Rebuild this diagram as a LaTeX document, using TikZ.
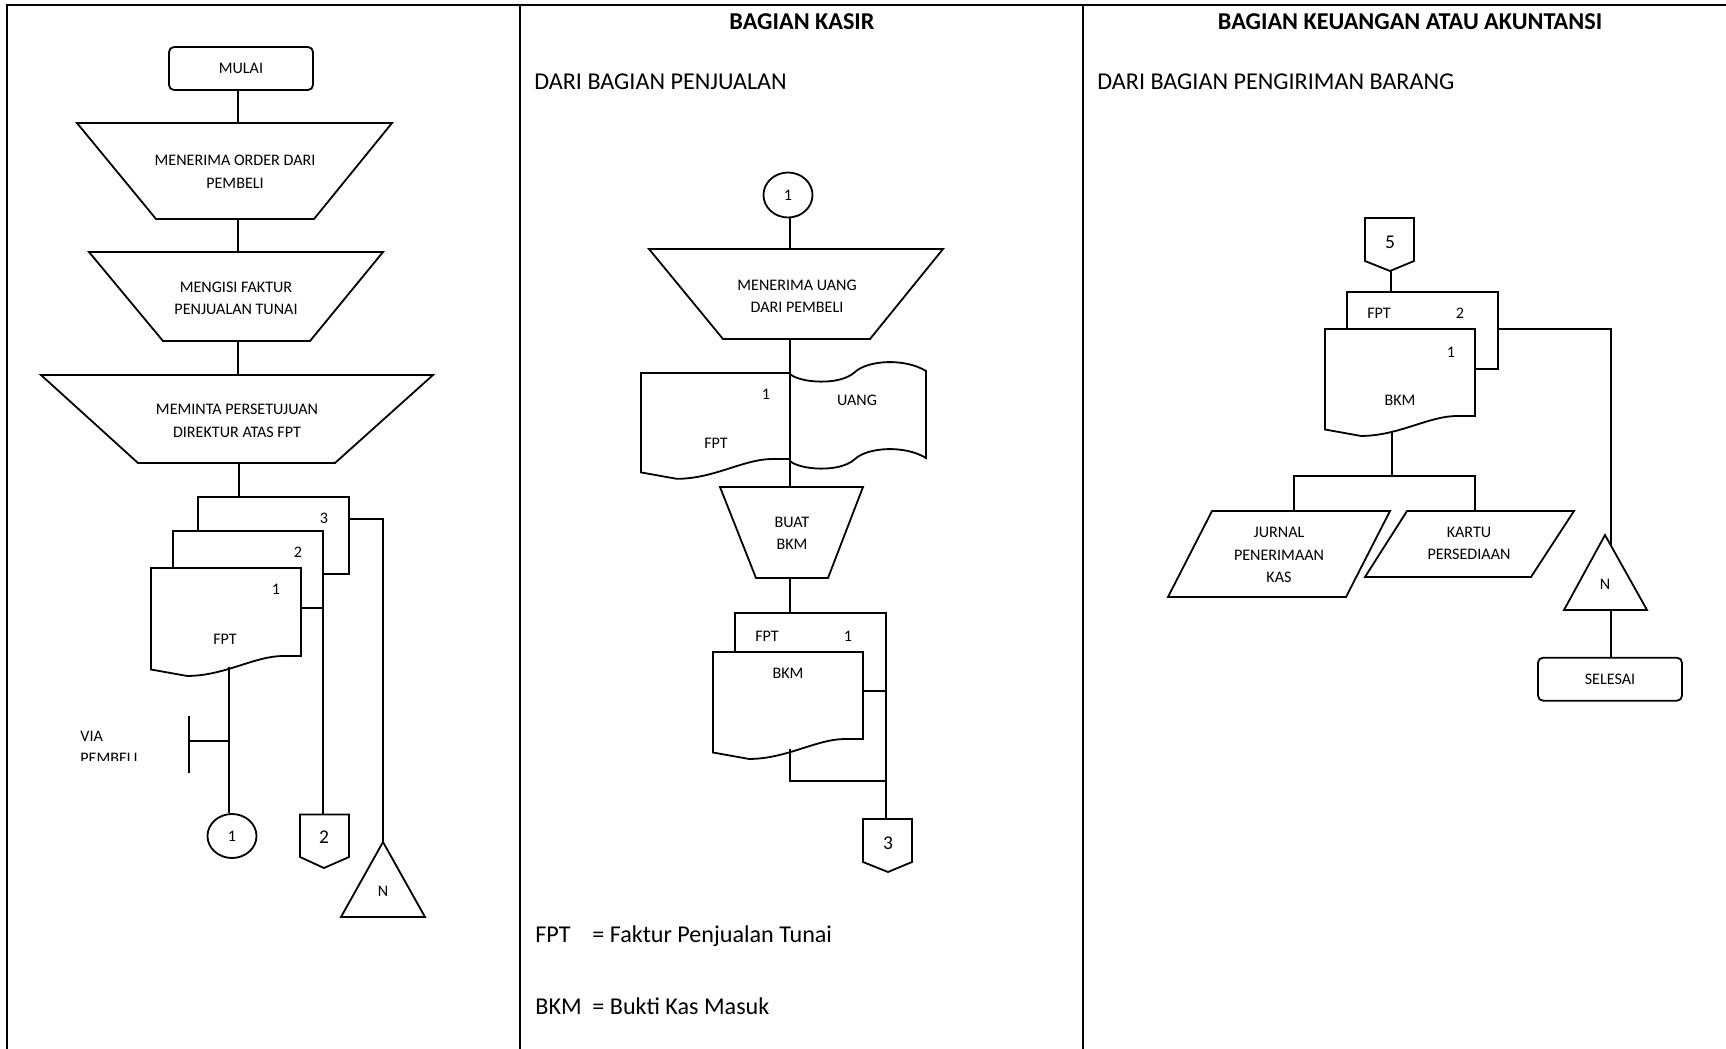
\documentclass[tikz,border=0pt]{standalone}
\usepackage{fontspec}
\setmainfont{Carlito}
\usetikzlibrary{shapes.geometric}
\tikzset{
  frameline/.style={line width=1pt},
  shp/.style={draw, line width=0.9pt, line join=miter},
  ln/.style={line width=0.9pt},
  smalltxt/.style={font=\fontsize{8.05}{11.25}\selectfont, inner sep=0pt, align=center},
  bigtxt/.style={font=\fontsize{12.07}{14}\selectfont, inner sep=0pt},
  hdrtxt/.style={font=\bfseries\fontsize{12.1}{14}\selectfont, inner sep=0pt},
  digtxt/.style={font=\fontsize{9.75}{12}\selectfont, inner sep=0pt},
  termbox/.style={shp, rounded corners=2.5pt, minimum width=72pt, smalltxt},
  connector/.style={shp, ellipse, minimum width=24.5pt, smalltxt},
}
% document symbol with wavy bottom: x1, top, x2, y of right bottom
\newcommand{\wavedoc}[4]{%
  \draw[shp] (#1,#2) -- (#3,#2) -- (#3,#4) -- ({#1+0.88*(#3-#1)},#4)
    .. controls ({#1+0.69*(#3-#1)},#4) and ({#1+0.49*(#3-#1)},{#4+0.133*(#3-#1)})
    .. ({#1+0.24*(#3-#1)},{#4+0.133*(#3-#1)}) -- (#1,{#4+0.09*(#3-#1)}) -- cycle;}
\begin{document}
\begin{tikzpicture}[x=0.5pt,y=-0.5pt]
\useasboundingbox (0,0) rectangle (1726,1049);

% ---------- frame ----------
\draw[frameline] (1726,5) -- (7,5) -- (7,1049);
\draw[frameline] (520,5) -- (520,1049);
\draw[frameline] (1083,5) -- (1083,1049);

% ---------- headers ----------
\node[hdrtxt, anchor=base] (hkasir) at (802,29) {BAGIAN KASIR};
\node[hdrtxt, anchor=base] (hkeu) at (1410,29) {BAGIAN KEUANGAN ATAU AKUNTANSI};
\node[bigtxt, anchor=base west] (dpenj) at (534,89.5) {DARI BAGIAN PENJUALAN};
\node[bigtxt, anchor=base west] (dkirim) at (1097,89.5) {DARI BAGIAN PENGIRIMAN BARANG};

% =========== COLUMN 1 ===========
\node[termbox, minimum height=21.5pt] (mulai) at (241,68.5) {MULAI};

\draw[shp] (77,123) -- (392,123) -- (314,219) -- (156,219) -- cycle;
\node[smalltxt] (t1) at (235,171.75) {MENERIMA ORDER DARI\\PEMBELI};
\draw[shp] (89,252) -- (383,252) -- (310,341) -- (163,341) -- cycle;
\node[smalltxt] (t2) at (236,298.5) {MENGISI FAKTUR\\PENJUALAN TUNAI};
\draw[shp] (41,375) -- (433,375) -- (335,463) -- (138,463) -- cycle;
\node[smalltxt] (t3) at (237,421) {MEMINTA PERSETUJUAN\\DIREKTUR ATAS FPT};

\coordinate (t1n) at (238,123); \coordinate (t1s) at (238,219);
\coordinate (t2n) at (238,252); \coordinate (t2s) at (238,341);
\coordinate (t3n) at (238,375); \coordinate (t3s) at (239,463);
\coordinate (d3n) at (239,497);
\draw[ln] (mulai.south -| t1n) -- (t1n);
\draw[ln] (t1s) -- (t2n);
\draw[ln] (t2s) -- (t3n);
\draw[ln] (t3s) -- (d3n);

% FPT copies 3,2,1
\draw[shp] (198,531) -- (198,497) -- (349,497) -- (349,574) -- (323,574);
\draw[shp] (173,568) -- (173,531) -- (323,531) -- (323,608) -- (301,608);
\wavedoc{151}{568}{301}{656}
\node[smalltxt] (l3) at (324,518) {3};
\node[smalltxt] (l2) at (298,552) {2};
\node[smalltxt] (l1) at (276,589) {1};
\node[smalltxt] (fpt1) at (225,639) {FPT};

% connectors
\node[connector, minimum height=22pt] (c1a) at (232,836) {1};
\coordinate (d1b) at (229,667);
\draw[ln] (d1b) -- (d1b |- c1a.north);
\coordinate (via1) at (189,716); \coordinate (via2) at (189,773);
\coordinate (viaj) at (189,741);
\draw[ln] (via1) -- (via2);
\draw[ln] (viaj) -- (viaj -| d1b);
\begin{scope}
  \clip (60,700) rectangle (185,760);
  \node[smalltxt, align=left, anchor=west] (via) at (80,747.5) {VIA\\PEMBELI};
\end{scope}

\draw[shp] (300,814.5) -- (349,814.5) -- (349,857) -- (324,868) -- (300,857) -- cycle;
\node[digtxt] (op2) at (324,837) {2};
\coordinate (d2r) at (323,608); \coordinate (op2n) at (323,814.5);
\draw[ln] (d2r) -- (op2n);

\draw[shp] (383,842) -- (425,917) -- (341,917) -- cycle;
\node[smalltxt] (na) at (383,891) {N};
\coordinate (d3r) at (349,519); \coordinate (naapex) at (383,842);
\draw[ln] (d3r) -- (d3r -| naapex) -- (naapex);

% =========== COLUMN 2 ===========
\node[connector, minimum height=22.5pt] (c1b) at (788,195) {1};
\coordinate (t4n) at (790,249);
\draw[ln] (c1b.south -| t4n) -- (t4n);
\draw[shp] (649,249) -- (943,249) -- (870,339) -- (723,339) -- cycle;
\node[smalltxt] (t4) at (797,296.5) {MENERIMA UANG\\DARI PEMBELI};

\wavedoc{641}{373}{790}{459}
\node[smalltxt] (fl1) at (766,394) {1};
\node[smalltxt] (fpt2) at (716,443) {FPT};
\draw[shp] (790,374) .. controls (800,383) and (840,386) .. (855,372)
  .. controls (868,360) and (905,358) .. (926,371) -- (926,458)
  .. controls (905,445) and (868,447) .. (855,459)
  .. controls (840,473) and (800,470) .. (790,461);
\node[smalltxt] (uang) at (857,400) {UANG};

\draw[shp] (720,487) -- (863,487) -- (828,578) -- (756,578) -- cycle;
\node[smalltxt] (t5) at (792,533.5) {BUAT\\BKM};
\coordinate (t4s) at (790,339); \coordinate (t5n) at (790,487);
\draw[ln] (t4s) -- (t5n);
\coordinate (t5s) at (790,578); \coordinate (d5n) at (790,613);
\draw[ln] (t5s) -- (d5n);

\draw[shp] (735,652) -- (735,613) -- (886,613) -- (886,691) -- (863,691);
\node[smalltxt] (fpt3) at (767,636) {FPT};
\node[smalltxt] (fl3) at (848,636) {1};
\wavedoc{713}{652}{863}{739}
\node[smalltxt] (bkm2) at (788,673) {BKM};

\draw[shp] (863,819) -- (912,819) -- (912,862) -- (888,872) -- (863,862) -- cycle;
\node[digtxt] (op3) at (888,843) {3};
\coordinate (d5r) at (886,691); \coordinate (op3n) at (886,819);
\draw[ln] (d5r) -- (op3n);
\coordinate (d6b) at (790,749); \coordinate (jn3) at (886,781);
\draw[ln] (d6b) -- (d6b |- jn3) -- (jn3);

% legend
\node[bigtxt, anchor=base west] (lgf) at (535,942) {FPT};
\node[bigtxt, anchor=base west] (lgf2) at (592,942) {= Faktur Penjualan Tunai};
\node[bigtxt, anchor=base west] (lgb) at (535,1014) {BKM};
\node[bigtxt, anchor=base west] (lgb2) at (592,1014) {= Bukti Kas Masuk};

% =========== COLUMN 3 ===========
\draw[shp] (1365,218) -- (1414,218) -- (1414,261) -- (1390,271) -- (1365,261) -- cycle;
\node[digtxt] (op5) at (1390,242) {5};
\coordinate (op5s) at (1391,271); \coordinate (d7n) at (1391,292);
\draw[ln] (op5s) -- (d7n);

\draw[shp] (1347,329) -- (1347,292) -- (1498,292) -- (1498,369) -- (1475,369);
\node[smalltxt] (fpt4) at (1379,313) {FPT};
\node[smalltxt] (fl4) at (1460,313) {2};
\wavedoc{1325}{329}{1475}{416}
\node[smalltxt] (fl5) at (1451,352) {1};
\node[smalltxt] (bkm3) at (1400,400) {BKM};

\coordinate (d7r) at (1498,329); \coordinate (nbtop) at (1611,546);
\draw[ln] (d7r) -- (d7r -| nbtop) -- (nbtop);

\coordinate (d8b) at (1392,432); \coordinate (jn5) at (1392,476);
\coordinate (pa) at (1294,511); \coordinate (pb) at (1475,511);
\draw[ln] (d8b) -- (jn5);
\draw[ln] (pa) -- (pa |- jn5) -- (pb |- jn5) -- (pb);

\draw[shp] (1212,511) -- (1390,511) -- (1346,597) -- (1168,597) -- cycle;
\node[smalltxt] (jurnal) at (1279,555) {JURNAL\\PENERIMAAN\\KAS};
\draw[shp] (1407,511) -- (1574,511) -- (1531,577) -- (1365,577) -- cycle;
\node[smalltxt] (kartu) at (1469,543.5) {KARTU\\PERSEDIAAN};

\draw[shp] (1605,535) -- (1647,610) -- (1564,610) -- cycle;
\node[smalltxt] (nb) at (1605,584) {N};
\node[termbox, minimum height=21.5pt] (selesai) at (1610,679.2) {SELESAI};
\coordinate (nbbase) at (1611,610);
\draw[ln] (nbbase) -- (nbbase |- selesai.north);

\end{tikzpicture}
\end{document}
